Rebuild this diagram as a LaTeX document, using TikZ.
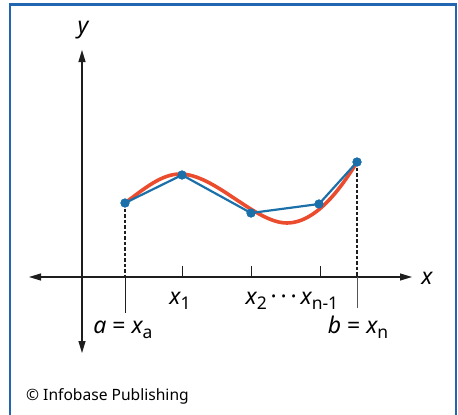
\documentclass[tikz,border=0pt]{standalone}
\usepackage{fontspec}
\setmainfont{Noto Sans}
\usetikzlibrary{arrows.meta}
\definecolor{frameblue}{RGB}{34,102,178}
\definecolor{ptblue}{RGB}{28,112,170}
\definecolor{curvered}{RGB}{236,76,46}
\definecolor{axisgray}{RGB}{30,30,30}
\newcommand\lblsub[1]{\raisebox{-5pt}{\fontsize{17.5}{17.5}\selectfont #1}}
\newcommand\lblfont{\fontsize{23}{23}\selectfont}
\begin{document}
\begin{tikzpicture}[x=1pt,y=-1pt,
  axisline/.style={axisgray, line width=1.1pt},
  tick/.style={axisgray, line width=1pt},
  dropline/.style={axisgray, line width=1.1pt, dash pattern=on 3.5pt off 2pt},
  pt/.style={circle, fill=ptblue, inner sep=0pt, minimum size=9pt},
  lbl/.style={anchor=base, inner sep=0pt, font=\lblfont}]
\useasboundingbox (0,0) rectangle (458,415);
% frame
\draw[frameblue, line width=2.4pt] (10,415) -- (10,4.5) -- (456,4.5) -- (456,415);
% axes
\coordinate (ybot) at (82,353);
\coordinate (ytop) at (82,50);
\coordinate (xl) at (29,277);
\coordinate (xr) at (412,277);
\draw[axisline, {Triangle[length=12pt,width=7pt]}-{Triangle[length=12pt,width=7pt]}] (ybot) -- (ytop);
\draw[axisline, {Triangle[length=12pt,width=7pt]}-{Triangle[length=12pt,width=7pt]}] (xl) -- (xr);
\node[lbl] (ylab) at (83,34) {\itshape y};
\node[lbl] (xlab) at (427,284) {\itshape x};
% ticks
\draw[tick] (182,266) -- (182,277);
\draw[tick] (251,266) -- (251,277);
\draw[tick] (320,266) -- (320,277);
% points
\node[pt] (pa) at (125,203) {};
\node[pt] (p1) at (182,175) {};
\node[pt] (p2) at (251,213) {};
\node[pt] (p3) at (319,204) {};
\node[pt] (pb) at (357,162) {};
\coordinate (ax) at (125,277);
\coordinate (axe) at (125,313);
\coordinate (bx) at (357,277);
\coordinate (bxe) at (357,308);
% drops
\draw[dropline] (pa.center) -- (ax);
\draw[tick] (ax) -- (axe);
\draw[dropline] (pb.center) -- (bx);
\draw[tick, axisgray!75] (bx) -- (bxe);
% red curve
\draw[curvered, line width=3.6pt, line cap=round]
  (pa.center) .. controls (145,188) and (162,174) .. (180,174)
  .. controls (215,174) and (255,223) .. (287,223)
  .. controls (315,223) and (340,190) .. (pb.center);
% blue polyline
\draw[ptblue, line width=2.2pt] (pa.center) -- (p1.center) -- (p2.center) -- (p3.center) -- (pb.center);
\foreach \n in {pa,p1,p2,p3,pb} \fill[ptblue] (\n) circle (4.6pt);
% labels
\node[lbl] (l1) at (180,304) {\itshape x\upshape\lblsub{1}};
\node[lbl] (l2) at (292,304) {\itshape x\upshape\lblsub{2}\,\textperiodcentered\,\textperiodcentered\,\textperiodcentered\,\itshape x\upshape\lblsub{n-1}};
\node[lbl] (la) at (123,333) {\itshape a\upshape{} = \itshape x\upshape\lblsub{a}};
\node[lbl] (lb) at (358,333) {\itshape b\upshape{} = \itshape x\upshape\lblsub{n}};
\node[anchor=base west, inner sep=0pt, font=\fontsize{15.6}{15.6}\selectfont] (copy) at (26,400) {© Infobase Publishing};
\end{tikzpicture}
\end{document}
